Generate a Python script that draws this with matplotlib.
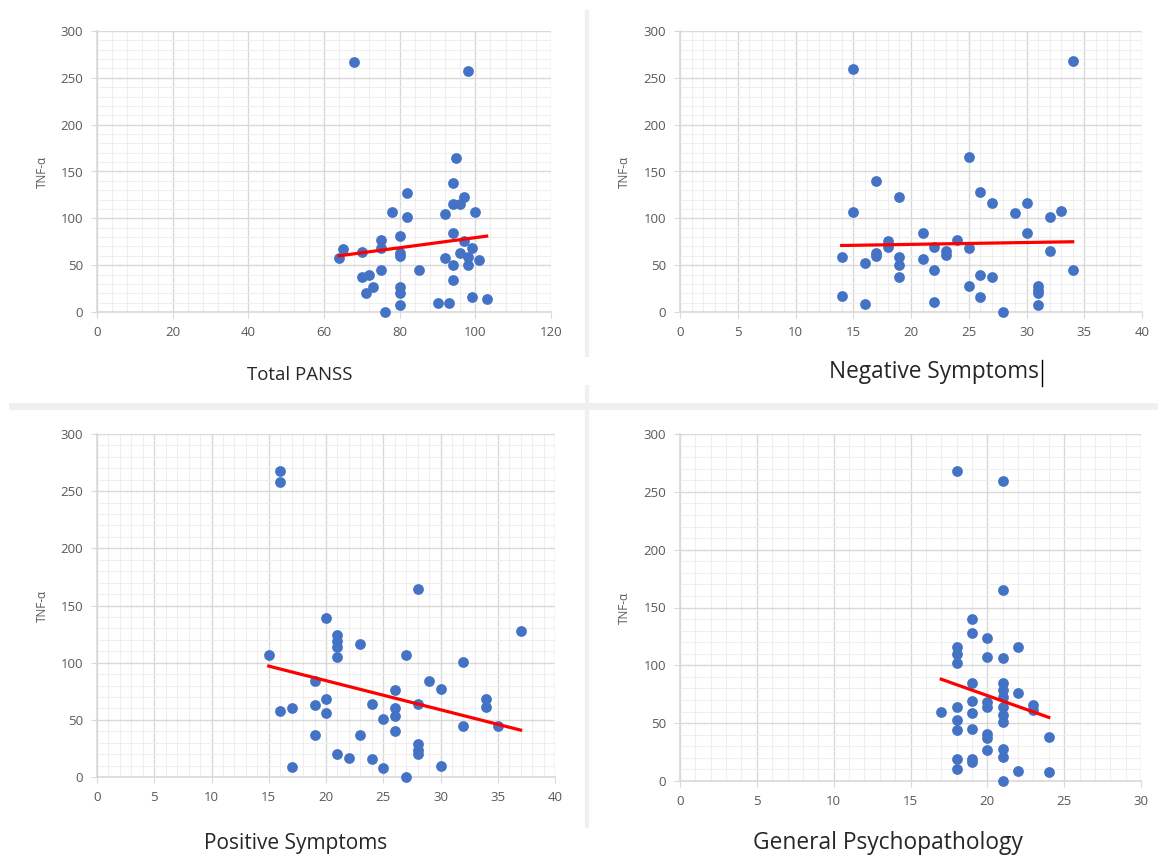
import matplotlib.pyplot as plt
from matplotlib.lines import Line2D
from matplotlib.ticker import MultipleLocator
import numpy as np

# TNF-alpha vs PANSS scores
panss_total = [68, 98, 95, 94, 82, 97, 94, 96, 78, 92, 100, 82, 80, 94, 75, 97,
               65, 75, 70, 80, 80, 64, 96, 99, 98, 92, 101, 94, 98, 75, 85, 70,
               72, 94, 73, 80, 71, 80, 80, 90, 93, 99, 103, 76]
tnf_total = [267, 257, 164, 138, 127, 123, 115, 115, 107, 105, 107, 101, 81, 84, 77, 76,
             67, 68, 64, 63, 60, 58, 63, 68, 59, 58, 55, 50, 50, 45, 45, 37,
             40, 34, 27, 27, 20, 20, 8, 10, 10, 16, 14, 0]

panss_neg = [15, 34, 25, 17, 19, 26, 27, 30, 15, 29, 33, 32, 21, 30, 18, 24,
             18, 22, 25, 17, 17, 23, 23, 14, 19, 32, 21, 16, 19, 22, 34, 19,
             26, 27, 25, 31, 31, 31, 14, 26, 16, 22, 31, 28]
tnf_neg = [259, 268, 165, 140, 123, 128, 116, 116, 107, 106, 108, 101, 84, 84, 76, 77,
           69, 69, 68, 63, 60, 65, 61, 59, 59, 65, 57, 52, 50, 45, 45, 37,
           40, 37, 28, 28, 23, 20, 17, 16, 9, 11, 8, 0]

panss_pos = [16, 16, 28, 20, 21, 21, 21, 21, 37, 23, 15, 27, 32, 19, 29, 30,
             26, 20, 34, 34, 24, 19, 28, 16, 17, 26, 20, 26, 25, 32, 35, 26,
             19, 23, 28, 28, 28, 21, 22, 24, 17, 30, 25, 27]
tnf_pos = [268, 258, 164, 139, 124, 119, 114, 105, 128, 116, 107, 107, 101, 84, 84, 77,
           76, 68, 68, 61, 64, 63, 64, 58, 60, 60, 56, 53, 51, 45, 45, 40,
           37, 37, 29, 24, 20, 20, 17, 16, 9, 10, 8, 0]

panss_gen = [18, 21, 21, 19, 19, 20, 22, 18, 18, 18, 20, 21, 19, 21, 21, 22,
             17, 18, 19, 19, 20, 20, 21, 21, 21, 21, 23, 23, 18, 18, 19, 20,
             20, 24, 20, 21, 21, 18, 18, 19, 19, 22, 24, 21]
tnf_gen = [268, 259, 165, 140, 128, 124, 116, 116, 110, 102, 107, 106, 85, 85, 79, 76,
           60, 64, 69, 59, 68, 64, 73, 64, 57, 51, 66, 61, 53, 44, 45, 41,
           37, 38, 27, 28, 21, 19, 10, 19, 16, 9, 8, 0]

# linear trendline end points as drawn in the charts
trend_total_x, trend_total_y = [64, 103], [60, 81]
trend_neg_x, trend_neg_y = [14, 34], [71, 75]
trend_pos_x, trend_pos_y = [15, 37], [97, 41]
trend_gen_x, trend_gen_y = [17, 24], [88, 55]

titles = ['Total PANSS', 'Negative Symptoms', 'Positive Symptoms', 'General Psychopathology']
xmax = [120, 40, 40, 30]
xstep = [20, 5, 5, 5]

W, H = 1158, 855
fig = plt.figure(figsize=(W / 100, H / 100), dpi=100)
plt.rcParams['font.family'] = ['Open Sans', 'DejaVu Sans']

# axes boxes in pixels: left, right, top, bottom
boxes = [(97, 551, 31, 312), (680, 1142, 31, 312),
         (97, 555, 434, 777), (680, 1141, 434, 781)]
# where the big axis title and the TNF label sit (pixels), and title sizes
title_pos = [(300, 375), (934, 372), (296, 843), (888, 843)]
title_size = [13.4, 16.3, 15, 16.4]
ylab_x = [42, 624, 42, 624]

data = [(panss_total, tnf_total, trend_total_x, trend_total_y),
        (panss_neg, tnf_neg, trend_neg_x, trend_neg_y),
        (panss_pos, tnf_pos, trend_pos_x, trend_pos_y),
        (panss_gen, tnf_gen, trend_gen_x, trend_gen_y)]

grid_major = '#d9d9d9'
grid_minor = '#efefef'

for i in range(4):
    l, r, t, b = boxes[i]
    ax = fig.add_axes([l / W, 1 - b / H, (r - l) / W, (b - t) / H])
    x, y, tx, ty = data[i]
    ax.scatter(x, y, s=60, color='#4472c4', zorder=3, linewidths=0, clip_on=False)
    ax.plot(tx, ty, color='#ff0000', lw=2.3, zorder=4)
    ax.set_xlim(0, xmax[i])
    ax.set_ylim(0, 300)
    ax.xaxis.set_major_locator(MultipleLocator(xstep[i]))
    ax.xaxis.set_minor_locator(MultipleLocator(xstep[i] / 5))
    ax.yaxis.set_major_locator(MultipleLocator(50))
    ax.yaxis.set_minor_locator(MultipleLocator(10))
    ax.grid(which='minor', color=grid_minor, lw=0.8, zorder=0)
    ax.grid(which='major', color=grid_major, lw=1.0, zorder=1)
    ax.set_axisbelow(True)
    for s in ['top', 'right']:
        ax.spines[s].set_visible(False)
    for s in ['left', 'bottom']:
        ax.spines[s].set_color(grid_major)
        ax.spines[s].set_linewidth(1.2)
    ax.tick_params(which='major', length=4, color=grid_major, labelcolor='#595959',
                   labelsize=9.5, pad=6)
    ax.tick_params(which='minor', length=0)
    fig.text(ylab_x[i] / W, 1 - ((t + b) / 2) / H, 'TNF-α', rotation=90,
             ha='center', va='center', fontsize=8.5, color='#595959')
    fig.text(title_pos[i][0] / W, 1 - title_pos[i][1] / H, titles[i],
             ha='center', va='center', fontsize=title_size[i], color='#262626')

# light grey separators between the pasted charts
sep = '#f0f0f0'
fig.add_artist(Line2D([12 / W, 1], [1 - 406 / H, 1 - 406 / H], color=sep, lw=5))
fig.add_artist(Line2D([587 / W, 587 / W], [1 - 12 / H, 1 - 355 / H], color=sep, lw=3))
fig.add_artist(Line2D([587 / W, 587 / W], [1 - 387 / H, 1 - 826 / H], color=sep, lw=3))
# text cursor after "Negative Symptoms"
fig.add_artist(Line2D([1042 / W, 1042 / W], [1 - 360 / H, 1 - 386 / H], color='black', lw=1))

fig.savefig('out.png', dpi=100)
